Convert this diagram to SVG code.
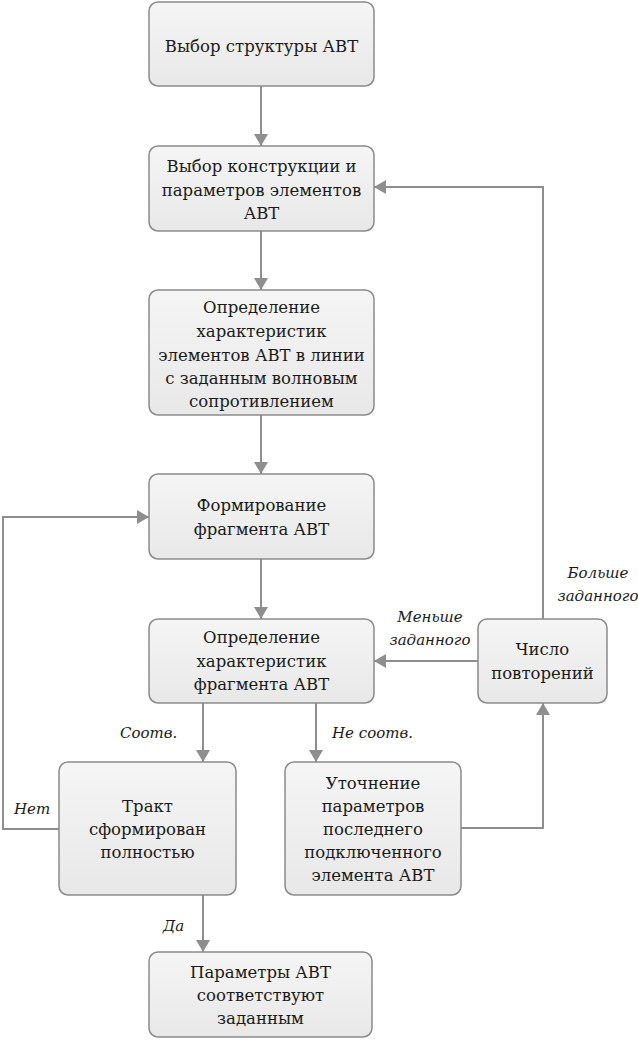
<svg xmlns="http://www.w3.org/2000/svg" width="638" height="1040" viewBox="0 0 638 1040">
<defs>
<linearGradient id="g" x1="0" y1="0" x2="0" y2="1">
<stop offset="0" stop-color="#f5f5f5"/>
<stop offset="1" stop-color="#e8e8e8"/>
</linearGradient>
<marker id="a" viewBox="0 0 12 14" refX="12" refY="7" markerWidth="12" markerHeight="14" markerUnits="userSpaceOnUse" orient="auto">
<path d="M0,0 L12,7 L0,14 Z" fill="#8e8e8e"/>
</marker>
<style>
.b{fill:url(#g);stroke:#8a8a8a;stroke-width:1.5}
.t{font-family:"DejaVu Serif","Liberation Serif",serif;font-size:16.5px;fill:#1a1a1a;text-anchor:middle}
.l{font-family:"DejaVu Serif","Liberation Serif",serif;font-size:15px;font-style:italic;fill:#1a1a1a}
.c{fill:none;stroke:#8e8e8e;stroke-width:2;marker-end:url(#a)}
</style>
</defs>
<rect width="638" height="1040" fill="#ffffff"/>
<g id="connectors">
<path class="c" d="M261,86 V146"/>
<path class="c" d="M261,231 V290"/>
<path class="c" d="M261,415 V474"/>
<path class="c" d="M261,559 V619"/>
<path class="c" d="M203,703 V762"/>
<path class="c" d="M316,703 V762"/>
<path class="c" d="M203,895 V952"/>
<path class="c" d="M59,829 H3 V517 H149"/>
<path class="c" d="M461,828 H543 V703"/>
<path class="c" d="M478,661 H374"/>
<path class="c" d="M543,619 V187 H374"/>
<text class="l" x="120" y="738">Соотв.</text>
<text class="l" x="332" y="738">Не соотв.</text>
<text class="l" x="163" y="931">Да</text>
<text class="l" x="14" y="814">Нет</text>
<text class="l" x="430" y="622" text-anchor="middle">Меньше</text>
<text class="l" x="430" y="645" text-anchor="middle">заданного</text>
<text class="l" x="598" y="578" text-anchor="middle">Больше</text>
<text class="l" x="598" y="601" text-anchor="middle">заданного</text>
</g>
<g id="n1"><rect class="b" x="149" y="2" width="225" height="84" rx="9"/>
<text class="t" x="261.5" y="52">Выбор структуры АВТ</text></g>
<g id="n2"><rect class="b" x="149" y="146" width="225" height="85" rx="9"/>
<text class="t" x="261.5" y="172">Выбор конструкции и</text>
<text class="t" x="261.5" y="196">параметров элементов</text>
<text class="t" x="261.5" y="219">АВТ</text></g>
<g id="n3"><rect class="b" x="149" y="290" width="225" height="125" rx="9"/>
<text class="t" x="261.5" y="313">Определение</text>
<text class="t" x="261.5" y="337">характеристик</text>
<text class="t" x="261.5" y="361">элементов АВТ в линии</text>
<text class="t" x="261.5" y="384">с заданным волновым</text>
<text class="t" x="261.5" y="407">сопротивлением</text></g>
<g id="n4"><rect class="b" x="149" y="474" width="225" height="85" rx="9"/>
<text class="t" x="261.5" y="511">Формирование</text>
<text class="t" x="261.5" y="535">фрагмента АВТ</text></g>
<g id="n5"><rect class="b" x="149" y="619" width="225" height="84" rx="9"/>
<text class="t" x="261.5" y="643">Определение</text>
<text class="t" x="261.5" y="667">характеристик</text>
<text class="t" x="261.5" y="690">фрагмента АВТ</text></g>
<g id="n6"><rect class="b" x="478" y="619" width="129" height="84" rx="9"/>
<text class="t" x="542.5" y="655">Число</text>
<text class="t" x="542.5" y="679">повторений</text></g>
<g id="n7"><rect class="b" x="59" y="762" width="177" height="133" rx="9"/>
<text class="t" x="147.5" y="812">Тракт</text>
<text class="t" x="147.5" y="835">сформирован</text>
<text class="t" x="147.5" y="858">полностью</text></g>
<g id="n8"><rect class="b" x="285" y="762" width="176" height="133" rx="9"/>
<text class="t" x="373" y="789">Уточнение</text>
<text class="t" x="373" y="812">параметров</text>
<text class="t" x="373" y="835">последнего</text>
<text class="t" x="373" y="858">подключенного</text>
<text class="t" x="373" y="881">элемента АВТ</text></g>
<g id="n9"><rect class="b" x="149" y="952" width="223" height="85" rx="9"/>
<text class="t" x="260.5" y="978">Параметры АВТ</text>
<text class="t" x="260.5" y="1001">соответствуют</text>
<text class="t" x="260.5" y="1024">заданным</text></g>
</svg>
